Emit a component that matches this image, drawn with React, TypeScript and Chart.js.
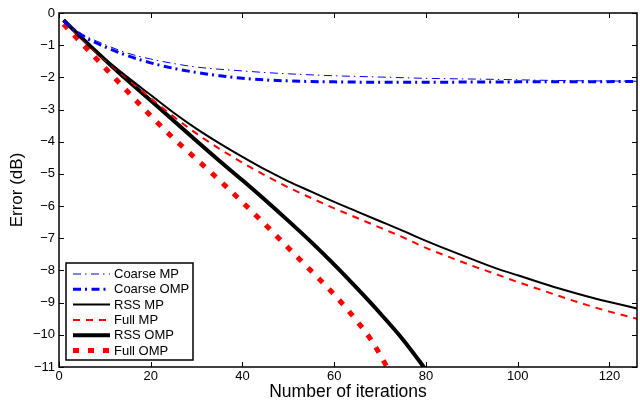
import { useEffect, useRef } from 'react';
import { Chart, registerables } from 'chart.js';

Chart.register(...registerables);

const FONT = "'Liberation Sans', Arial, Helvetica, sans-serif";

const xTicks = [0, 20, 40, 60, 80, 100, 120];
const yTicks = [0, -1, -2, -3, -4, -5, -6, -7, -8, -9, -10, -11];

const coarseMpX = [1, 5, 10, 15, 20, 25, 30, 40, 45, 50, 60, 70, 80, 94, 110, 126];
const coarseMpY = [-0.25, -0.65, -0.98, -1.25, -1.43, -1.57, -1.68, -1.8, -1.85, -1.89, -1.95, -1.99, -2.03, -2.06, -2.1, -2.12];

const coarseOmpX = [1, 5, 10, 15, 20, 25, 30, 35, 40, 45, 50, 60, 70, 80, 100, 126];
const coarseOmpY = [-0.25, -0.7, -1.05, -1.33, -1.55, -1.72, -1.85, -1.95, -2.03, -2.08, -2.11, -2.14, -2.15, -2.15, -2.14, -2.13];

const rssMpX = [1, 5, 10, 15, 20, 25, 30, 35, 40, 45, 50, 55, 60, 65, 70, 75, 80, 85, 90, 95, 100, 105, 110, 115, 120, 126];
const rssMpY = [-0.22, -0.78, -1.42, -2.0, -2.55, -3.1, -3.6, -4.05, -4.47, -4.87, -5.23, -5.55, -5.87, -6.17, -6.47, -6.77, -7.08, -7.37, -7.65, -7.92, -8.15, -8.38, -8.6, -8.8, -8.98, -9.18];

const fullMpX = [1, 5, 10, 15, 20, 25, 30, 35, 40, 45, 50, 55, 60, 65, 70, 75, 80, 85, 90, 95, 100, 105, 110, 115, 120, 126];
const fullMpY = [-0.25, -0.8, -1.45, -2.05, -2.65, -3.22, -3.75, -4.22, -4.65, -5.05, -5.42, -5.75, -6.07, -6.37, -6.67, -6.97, -7.3, -7.58, -7.85, -8.1, -8.36, -8.6, -8.84, -9.07, -9.28, -9.5];

const rssOmpX = [1, 5, 10, 15, 20, 25, 30, 35, 40, 45, 50, 55, 60, 65, 70, 75, 79, 80];
const rssOmpY = [-0.22, -0.78, -1.45, -2.1, -2.72, -3.35, -3.98, -4.6, -5.2, -5.82, -6.46, -7.12, -7.82, -8.56, -9.33, -10.15, -10.9, -11.1];

const fullOmpX = [1, 5, 10, 15, 20, 25, 30, 35, 40, 45, 50, 55, 60, 65, 68, 71.5, 73];
const fullOmpY = [-0.35, -0.95, -1.7, -2.45, -3.2, -3.9, -4.55, -5.2, -5.88, -6.58, -7.3, -8.02, -8.75, -9.58, -10.15, -11.0, -11.4];

const seriesLabels = ['Coarse MP', 'Coarse OMP', 'RSS MP', 'Full MP', 'RSS OMP', 'Full OMP'];

const pts = (xs: number[], ys: number[]) => xs.map((x, i) => ({ x, y: ys[i] }));

const minus = (v: number) => (v < 0 ? '\u2212' + Math.abs(v) : String(v));

const frameTicksPlugin = {
  id: 'frameTicks',
  afterDatasetsDraw(chart: any) {
    const { ctx, chartArea: a, scales } = chart;
    const tl = 5;
    ctx.save();
    ctx.strokeStyle = '#000';
    ctx.lineWidth = 1;
    ctx.beginPath();
    xTicks.forEach((v) => {
      const p = Math.round(scales.x.getPixelForValue(v)) + 0.5;
      ctx.moveTo(p, a.bottom);
      ctx.lineTo(p, a.bottom - tl);
      ctx.moveTo(p, a.top);
      ctx.lineTo(p, a.top + tl);
    });
    yTicks.forEach((v) => {
      const p = Math.round(scales.y.getPixelForValue(v)) + 0.5;
      ctx.moveTo(a.left, p);
      ctx.lineTo(a.left + tl, p);
      ctx.moveTo(a.right, p);
      ctx.lineTo(a.right - tl, p);
    });
    ctx.stroke();
    ctx.lineWidth = 1.5;
    ctx.strokeRect(a.left, a.top, a.right - a.left, a.bottom - a.top);
    ctx.restore();
  },
};

const legendPlugin = {
  id: 'boxLegend',
  afterDraw(chart: any) {
    const { ctx } = chart;
    const x0 = 66;
    const y0 = 263;
    const w = 127;
    const h = 97;
    ctx.save();
    ctx.fillStyle = '#fff';
    ctx.fillRect(x0, y0, w, h);
    ctx.strokeStyle = '#000';
    ctx.lineWidth = 1.5;
    ctx.strokeRect(x0, y0, w, h);
    ctx.font = `13px ${FONT}`;
    ctx.textBaseline = 'middle';
    ctx.textAlign = 'left';
    chart.data.datasets.forEach((ds: any, i: number) => {
      const cy = y0 + 11 + i * 15.3;
      ctx.beginPath();
      ctx.setLineDash(ds.borderDash || []);
      ctx.lineDashOffset = 0;
      ctx.strokeStyle = ds.borderColor;
      ctx.lineWidth = ds.borderWidth;
      ctx.lineCap = 'butt';
      ctx.moveTo(73, cy);
      ctx.lineTo(110, cy);
      ctx.stroke();
      ctx.setLineDash([]);
      ctx.fillStyle = '#000';
      ctx.fillText(ds.label, 114, cy + 0.5);
    });
    ctx.restore();
  },
};

export default function App() {
  const ref = useRef<HTMLCanvasElement | null>(null);

  useEffect(() => {
    if (!ref.current) return;
    const common = { pointRadius: 0, fill: false, tension: 0, cubicInterpolationMode: 'monotone' as const };
    const chart = new Chart(ref.current, {
      type: 'line',
      data: {
        datasets: [
          { ...common, label: seriesLabels[0], data: pts(coarseMpX, coarseMpY), borderColor: '#0000ff', borderWidth: 1, borderDash: [8, 4, 1.5, 4.5] },
          { ...common, label: seriesLabels[1], data: pts(coarseOmpX, coarseOmpY), borderColor: '#0000ff', borderWidth: 3, borderDash: [8, 4, 2, 4.5] },
          { ...common, label: seriesLabels[2], data: pts(rssMpX, rssMpY), borderColor: '#000000', borderWidth: 2 },
          { ...common, label: seriesLabels[3], data: pts(fullMpX, fullMpY), borderColor: '#ff0000', borderWidth: 2, borderDash: [7, 6] },
          { ...common, label: seriesLabels[4], data: pts(rssOmpX, rssOmpY), borderColor: '#000000', borderWidth: 4 },
          { ...common, label: seriesLabels[5], data: pts(fullOmpX, fullOmpY), borderColor: '#ff0000', borderWidth: 5, borderDash: [6, 9] },
        ],
      },
      options: {
        animation: false,
        responsive: true,
        maintainAspectRatio: false,
        layout: { padding: { top: 13, right: 3, left: 0, bottom: 0 } },
        plugins: { legend: { display: false }, tooltip: { enabled: false } },
        scales: {
          x: {
            type: 'linear',
            min: 0,
            max: 126,
            grid: { display: false, drawTicks: false },
            border: { display: false },
            afterFit: (s: any) => { s.height = 36; },
            afterBuildTicks: (s: any) => { s.ticks = xTicks.map((v) => ({ value: v })); },
            ticks: { padding: 2, color: '#000', font: { family: FONT, size: 13 }, maxRotation: 0, callback: (v: any) => minus(Number(v)) },
            title: { display: true, text: 'Number of iterations', color: '#000', font: { family: FONT, size: 17.5 }, padding: { top: 0, bottom: 0 } },
          },
          y: {
            type: 'linear',
            min: -11,
            max: 0,
            grid: { display: false, drawTicks: false },
            border: { display: false },
            afterFit: (s: any) => { s.width = 59; },
            afterBuildTicks: (s: any) => { s.ticks = yTicks.slice().reverse().map((v) => ({ value: v })); },
            ticks: { padding: 4, color: '#000', font: { family: FONT, size: 13 }, callback: (v: any) => minus(Number(v)) },
            title: { display: true, text: 'Error (dB)', color: '#000', font: { family: FONT, size: 17 }, padding: { top: 7, bottom: 0 } },
          },
        },
      },
      plugins: [frameTicksPlugin, legendPlugin],
    });
    return () => chart.destroy();
  }, []);

  return (
    <div style={{ position: 'fixed', left: 0, top: 0, width: 640, height: 403, background: '#fff' }}>
      <canvas ref={ref} />
    </div>
  );
}
